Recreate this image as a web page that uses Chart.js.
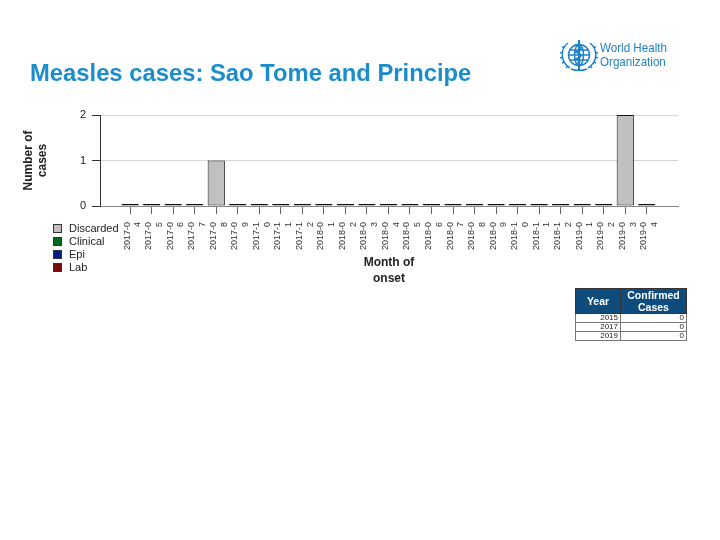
<!DOCTYPE html>
<html>
<head>
<meta charset="utf-8">
<script src="https://cdn.jsdelivr.net/npm/chart.js@4/dist/chart.umd.min.js"></script>
<style>
  body { margin: 0; background: #fff; font-family: "Liberation Sans", Arial, sans-serif; }
  #wrap { position: relative; width: 720px; height: 540px; overflow: hidden; }
  #chart { position: absolute; left: 0; top: 0; }
  #title { position: absolute; left: 30px; top: 61px; font-size: 23.8px; line-height: 24px; font-weight: bold; color: #1b8dcb; }
  #logo { position: absolute; left: 560px; top: 38px; }
  #logotext { position: absolute; left: 600px; top: 41px; font-size: 13.5px; line-height: 13.5px; color: #1f82c4; transform: scaleX(0.86); transform-origin: left top; white-space: nowrap; }
  #legend { position: absolute; left: 53px; top: 222px; font-size: 11px; color: #222; }
  #legend div { height: 13px; line-height: 13px; white-space: nowrap; }
  #legend span { display: inline-block; width: 7px; height: 7px; border: 1px solid #333; margin-right: 7px; vertical-align: -1px; }
  #tbl { position: absolute; left: 575px; top: 288px; border-collapse: collapse; font-size: 8px; color: #222; }
  #tbl th { background: #0f4c7c; color: #fff; font-weight: bold; font-size: 10.5px; line-height: 12px; height: 24px; padding: 0; border: 1px solid #333; }
  #tbl td { height: 8px; line-height: 8px; padding: 0 2px 0 0; text-align: right; border: 1px solid #777; }
</style>
</head>
<body>
<div id="wrap">
  <canvas id="chart" width="720" height="540"></canvas>
  <div id="title">Measles cases: Sao Tome and Principe</div>
  <svg id="logo" width="38" height="34" viewBox="0 0 38 34">
    <g fill="none" stroke="#1f82c4" stroke-width="1.5">
      <path d="M8 5 C0 11 0 24 10 30"/>
      <path d="M30 5 C38 11 38 24 28 30"/>
      <path d="M5 9 l-3 0 M3 14 l-3 1 M3 19 l-3 1 M5 24 l-3 1 M8 28 l-2 2"/>
      <path d="M33 9 l3 0 M35 14 l3 1 M35 19 l3 1 M33 24 l3 1 M30 28 l2 2"/>
      <circle cx="19" cy="17" r="10.5"/>
      <ellipse cx="19" cy="17" rx="4.5" ry="10.5"/>
      <path d="M8.5 17 H29.5 M10 12 H28 M10 22 H28"/>
    </g>
    <path d="M19 2 V32" stroke="#1f82c4" stroke-width="2.2"/>
    <path d="M15 7 C23 9 23 12 15 14 C23 16 23 19 15 21 C21 22 21 24 17 25" fill="none" stroke="#1f82c4" stroke-width="1.7"/>
    <path d="M11 31 Q19 34 27 31" fill="none" stroke="#1f82c4" stroke-width="1.7"/>
  </svg>
  <div id="logotext">World Health<br>Organization</div>
  <div id="legend"></div>
  <table id="tbl">
    <tr><th style="width:44px">Year</th><th style="width:65px">Confirmed<br>Cases</th></tr>
  </table>
</div>
<script>
// months of onset
var months = ["2017-04","2017-05","2017-06","2017-07","2017-08","2017-09","2017-10","2017-11","2017-12",
  "2018-01","2018-02","2018-03","2018-04","2018-05","2018-06","2018-07","2018-08","2018-09","2018-10","2018-11","2018-12",
  "2019-01","2019-02","2019-03","2019-04"];
var discarded = [0,0,0,0,1,0,0,0,0, 0,0,0,0,0,0,0,0,0,0,0,0, 0,0,2,0];
var clinical  = [0,0,0,0,0,0,0,0,0, 0,0,0,0,0,0,0,0,0,0,0,0, 0,0,0,0];
var epi       = [0,0,0,0,0,0,0,0,0, 0,0,0,0,0,0,0,0,0,0,0,0, 0,0,0,0];
var lab       = [0,0,0,0,0,0,0,0,0, 0,0,0,0,0,0,0,0,0,0,0,0, 0,0,0,0];
var yTicks = [0,1,2];
// confirmed cases table
var tableYears = ["2015","2017","2019"];
var tableConfirmed = [0,0,0];

var series = [
  {name: "Discarded", values: discarded, color: "#c0c0c0"},
  {name: "Clinical", values: clinical, color: "#006a1e"},
  {name: "Epi", values: epi, color: "#001a8c"},
  {name: "Lab", values: lab, color: "#7d0a0a"}
];

function pts(vals) {
  return vals.map(function(v, i) { return {x: i, y: v}; });
}

var datasets = series.map(function(s, k) {
  return {
    label: s.name,
    data: pts(s.values),
    backgroundColor: s.color,
    borderColor: "#111",
    borderWidth: 1,
    borderSkipped: false,
    minBarLength: k === 0 ? 2 : 0,
    categoryPercentage: 1,
    barPercentage: 0.8
  };
});

Chart.defaults.font.family = "'Liberation Sans', Arial, sans-serif";
Chart.defaults.color = "#222";

var ctx = document.getElementById("chart");
var myChart = new Chart(ctx, {
  type: 'bar',
  data: { datasets: datasets },
  options: {
    responsive: false,
    animation: false,
    layout: { padding: { left: 22, right: 42, top: 115, bottom: 249 } },
    plugins: { legend: { display: false }, tooltip: { enabled: false } },
    scales: {
      x: {
        type: 'linear',
        stacked: true,
        offset: false,
        min: -1.4,
        max: 25.45,
        afterBuildTicks: function(s) { s.ticks = months.map(function(m, i) { return {value: i}; }); },
        afterFit: function(s) { s.height = 85; },
        ticks: {
          autoSkip: false,
          minRotation: 90,
          maxRotation: 90,
          padding: 8,
          labelOffset: -3,
          font: { size: 9 },
          color: "#333",
          callback: function(v) {
            var m = months[v];
            return m ? [m.slice(0, 6), m.slice(6)] : '';
          }
        },
        grid: { offset: false, drawOnChartArea: false, tickLength: 8, tickColor: "#666" },
        border: { color: "#888" },
        title: {
          display: true,
          text: ["Month of", "onset"],
          font: { size: 12, weight: 'bold', lineHeight: 1.33 },
          color: "#222",
          padding: { top: 0, bottom: 4 }
        }
      },
      y: {
        stacked: true,
        min: 0,
        max: 2,
        afterBuildTicks: function(s) { s.ticks = yTicks.map(function(v) { return {value: v}; }); },
        afterFit: function(s) { s.width = 78; },
        ticks: { font: { size: 11 }, color: "#222", padding: 6 },
        grid: { color: "#d6d6d6", tickLength: 8, tickColor: "#333" },
        border: { color: "#333" },
        title: {
          display: true,
          text: ["Number of", "cases"],
          font: { size: 12, weight: 'bold', lineHeight: 1.17 },
          color: "#222",
          padding: { top: 0, bottom: 0 }
        }
      }
    }
  }
});

// legend from the series list
var lg = document.getElementById("legend");
series.forEach(function(s) {
  var d = document.createElement("div");
  d.innerHTML = '<span style="background:' + s.color + '"></span>' + s.name;
  lg.appendChild(d);
});

// confirmed cases table rows
var tbl = document.getElementById("tbl");
tableYears.forEach(function(y, i) {
  var tr = document.createElement("tr");
  tr.innerHTML = "<td>" + y + "</td><td>" + tableConfirmed[i] + "</td>";
  tbl.appendChild(tr);
});
</script>
</body>
</html>
